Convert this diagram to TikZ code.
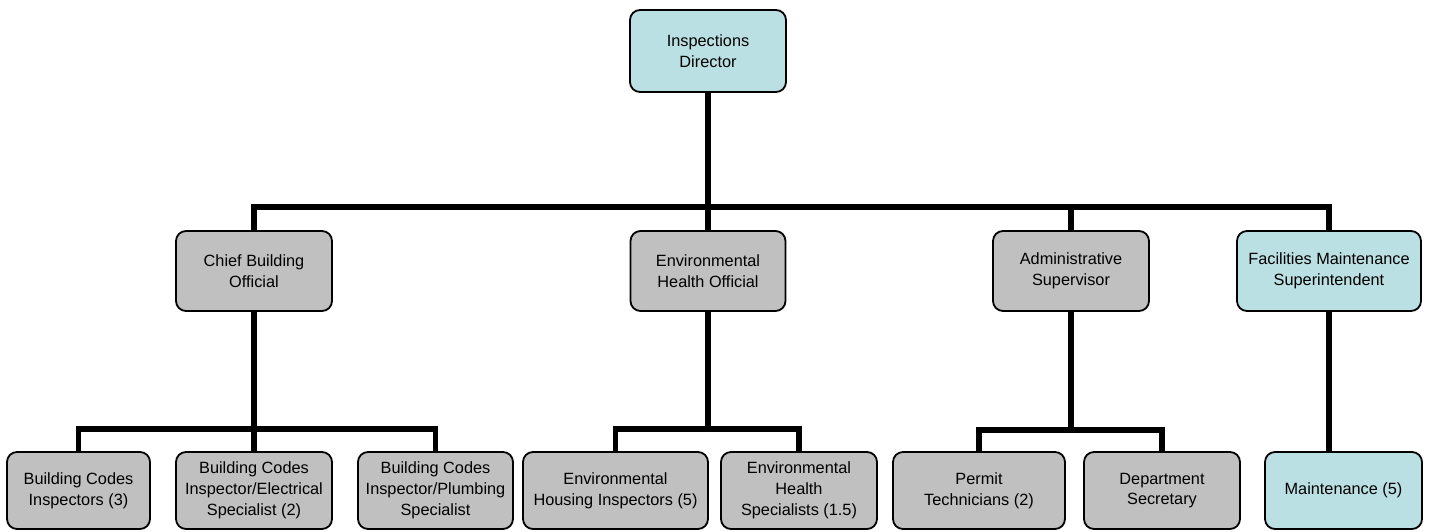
\documentclass[tikz,border=0pt]{standalone}
\usepackage{fontspec}
\setmainfont{Liberation Sans}
\definecolor{teal box}{RGB}{187,224,227}
\definecolor{gray box}{RGB}{192,192,192}
\tikzset{
  unit/.style={x=0.5pt,y=-0.5pt},
  orgbox/.style={draw=black,line width=0.9pt,rounded corners=5pt,inner sep=0pt,
    align=center,font=\fontsize{8.15}{10.4}\selectfont,text=black},
  graybox/.style={orgbox,fill=gray box},
  tealbox/.style={orgbox,fill=teal box},
  link/.style={line width=2.6pt,line join=miter,draw=black}
}
\begin{document}
\begin{tikzpicture}[unit]
\useasboundingbox (0,0) rectangle (1429,531);

% top level
\node[tealbox,minimum width=78pt,minimum height=41pt] (dir) at (708,51) {Inspections\\Director};

% second level
\node[graybox,minimum width=78pt,minimum height=40pt] (cbo) at (254,271) {Chief Building\\Official};
\node[graybox,minimum width=77.5pt,minimum height=40pt] (eho) at (708,271) {Environmental\\Health Official};
\node[graybox,minimum width=78pt,minimum height=40pt] (as) at (1071,271) {Administrative\\Supervisor};
\node[tealbox,minimum width=92pt,minimum height=40pt] (fms) at (1329,271) {Facilities Maintenance\\Superintendent};

% third level
\node[graybox,minimum width=71.5pt,minimum height=38.5pt] (b1) at (78.5,490.5) {Building Codes\\Inspectors (3)};
\node[graybox,minimum width=78pt,minimum height=38.5pt] (b2) at (254,490.5) {Building Codes\\Inspector/Electrical\\Specialist (2)};
\node[graybox,minimum width=77.5pt,minimum height=38.5pt] (b3) at (435.5,490.5) {Building Codes\\Inspector/Plumbing\\Specialist};
\node[graybox,minimum width=92.5pt,minimum height=38.5pt] (b4) at (615.5,490.5) {Environmental\\Housing Inspectors (5)};
\node[graybox,minimum width=78pt,minimum height=38.5pt] (b5) at (799,490.5) {Environmental\\Health\\Specialists (1.5)};
\node[graybox,minimum width=86pt,minimum height=38.5pt] (b6) at (979,490.5) {Permit\\Technicians (2)};
\node[graybox,minimum width=78pt,minimum height=38.5pt] (b7) at (1162,490.5) {Department\\Secretary};
\node[tealbox,minimum width=78.5pt,minimum height=38.5pt] (b8) at (1343.5,490.5) {Maintenance (5)};

% junction points on the connecting bars
\coordinate (barL) at (254,207);
\coordinate (barR) at (1329,207);
\coordinate (cboj) at (254,429);
\coordinate (ehoj) at (708,429);
\coordinate (asj) at (1071,430);
\coordinate (fmsj) at (1329,453);

% director to second level
\draw[link] (dir.south) -- (eho.north);
\draw[link] (cbo.north) -- (barL) -- (barR) -- (fms.north);
\draw[link] (as.north) -- (as.north |- barL);

% second level to third level
\draw[link] (cbo.south) -- (b2.north);
\draw[link] (b1.north) |- (cboj) -| (b3.north);
\draw[link] (eho.south) -- (ehoj);
\draw[link] (b4.north) |- (ehoj) -| (b5.north);
\draw[link] (as.south) -- (asj);
\draw[link] (b6.north) |- (asj) -| (b7.north);
\draw[link] (fms.south) -- (fmsj);
\end{tikzpicture}
\end{document}
